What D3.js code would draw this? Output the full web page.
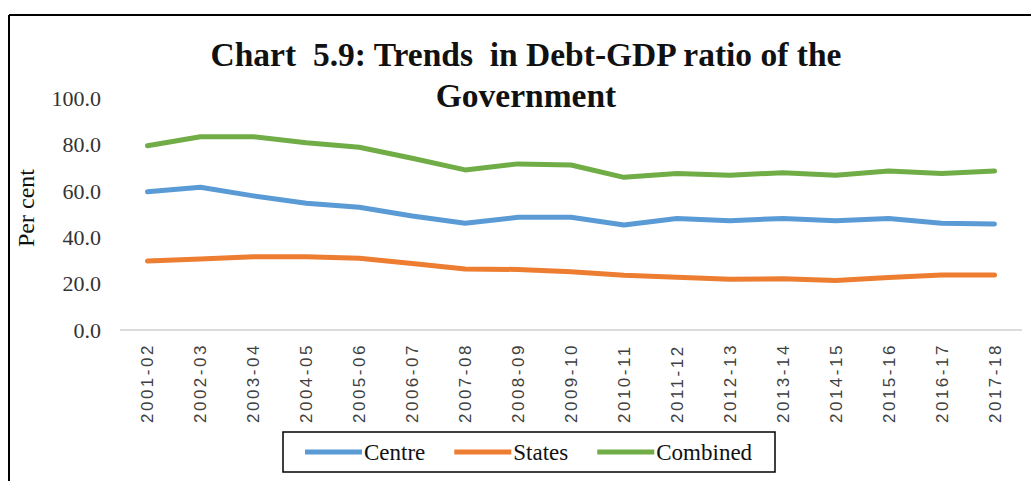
<!DOCTYPE html>
<html>
<head>
<meta charset="utf-8">
<script src="https://cdn.jsdelivr.net/npm/d3@7"></script>
<style>
  body { margin: 0; background: #fff; }
  svg { display: block; }
</style>
</head>
<body>
<svg id="chart" width="1031" height="481"></svg>
<script>
const years = ["2001-02", "2002-03", "2003-04", "2004-05", "2005-06", "2006-07", "2007-08", "2008-09",
    "2009-10", "2010-11", "2011-12", "2012-13", "2013-14", "2014-15", "2015-16", "2016-17", "2017-18"];
const centre = [59.6, 61.5, 57.8, 54.6, 52.9, 49.1, 46.0, 48.6, 48.6, 45.3, 48.1, 47.1, 48.1, 47.1, 48.1, 46.0, 45.7];
const states = [29.7, 30.6, 31.6, 31.6, 30.9, 28.7, 26.3, 26.1, 25.1, 23.6, 22.7, 21.9, 22.1, 21.3, 22.6, 23.7, 23.7];
const combined = [79.4, 83.3, 83.3, 80.7, 78.8, 74.0, 69.0, 71.6, 71.1, 65.8, 67.5, 66.7, 67.8, 66.7, 68.5, 67.5, 68.5];
const y_ticks = [0, 20, 40, 60, 80, 100];
const series_names = ["Centre", "States", "Combined"];
const series_colors = ["#5b9bd5", "#ed7d31", "#70ad47"];

const svg = d3.select("#chart"),
    width = +svg.attr("width"),
    height = +svg.attr("height");

let series = [centre, states, combined].map(function (vals, i) {
    return {name: series_names[i], color: series_colors[i], values: vals};
});

// frame (top + left edge of the cropped box)
svg.append("line").attr("x1", 9).attr("x2", width).attr("y1", 15).attr("y2", 15)
    .style("stroke", "#000").style("stroke-width", 2);
svg.append("line").attr("x1", 9).attr("x2", 9).attr("y1", 15).attr("y2", height)
    .style("stroke", "#000").style("stroke-width", 2);

// title
let title = svg.append("text")
    .attr("text-anchor", "middle")
    .style("white-space", "pre")
    .style("font-family", "'Liberation Serif', 'Times New Roman', serif")
    .style("font-weight", "bold")
    .style("font-size", "33.5px")
    .style("fill", "#111");
title.append("tspan").attr("x", 526).attr("y", 66).text("Chart  5.9: Trends  in Debt-GDP ratio of the");
title.append("tspan").attr("x", 526).attr("y", 107).text("Government");

let x = d3.scalePoint().domain(years).range([121, 1021]).padding(0.5);
let y = d3.scaleLinear().domain([0, 100]).range([330, 98]);

// x axis line
svg.append("line").attr("x1", 120).attr("x2", 1022).attr("y1", y(0)).attr("y2", y(0))
    .style("stroke", "#d0d0d0").style("stroke-width", 1.5);

// y tick labels
svg.append("g")
    .selectAll("text")
    .data(y_ticks)
    .enter()
    .append("text")
    .attr("x", 101)
    .attr("y", d => y(d))
    .attr("dy", "0.35em")
    .attr("text-anchor", "end")
    .style("font-family", "'Liberation Serif', 'Times New Roman', serif")
    .style("font-size", "22px")
    .style("fill", "#333")
    .text(d => d.toFixed(1));

// y title
svg.append("text")
    .attr("transform", "translate(34,208) rotate(-90)")
    .attr("text-anchor", "middle")
    .style("font-family", "'Liberation Serif', 'Times New Roman', serif")
    .style("font-size", "24px")
    .style("fill", "#111")
    .text("Per cent");

// x tick labels
svg.append("g")
    .selectAll("text")
    .data(years)
    .enter()
    .append("text")
    .attr("transform", d => "translate(" + (x(d) + 6) + ",423) rotate(-90)")
    .attr("text-anchor", "start")
    .style("font-family", "'Liberation Sans', Arial, sans-serif")
    .style("font-size", "17px")
    .style("letter-spacing", "2.5px")
    .style("fill", "#404040")
    .text(d => d);

// lines
let line = d3.line()
    .x((d, i) => x(years[i]))
    .y(d => y(d));

svg.append("g")
    .selectAll("path")
    .data(series)
    .enter()
    .append("path")
    .attr("d", d => line(d.values))
    .style("fill", "none")
    .style("stroke", d => d.color)
    .style("stroke-width", 5)
    .style("stroke-linejoin", "round")
    .style("stroke-linecap", "round");

// legend
svg.append("rect")
    .attr("x", 283).attr("y", 432).attr("width", 492).attr("height", 40)
    .style("fill", "#fff").style("stroke", "#000").style("stroke-width", 1.5);

let lx = 305;
series.forEach(function (s) {
    svg.append("line")
        .attr("x1", lx).attr("x2", lx + 57).attr("y1", 452).attr("y2", 452)
        .style("stroke", s.color).style("stroke-width", 5);
    let t = svg.append("text")
        .attr("x", lx + 59).attr("y", 460)
        .style("font-family", "'Liberation Serif', 'Times New Roman', serif")
        .style("font-size", "23px")
        .style("fill", "#111")
        .text(s.name);
    lx = lx + 59 + t.node().getComputedTextLength() + 29;
});
</script>
</body>
</html>
